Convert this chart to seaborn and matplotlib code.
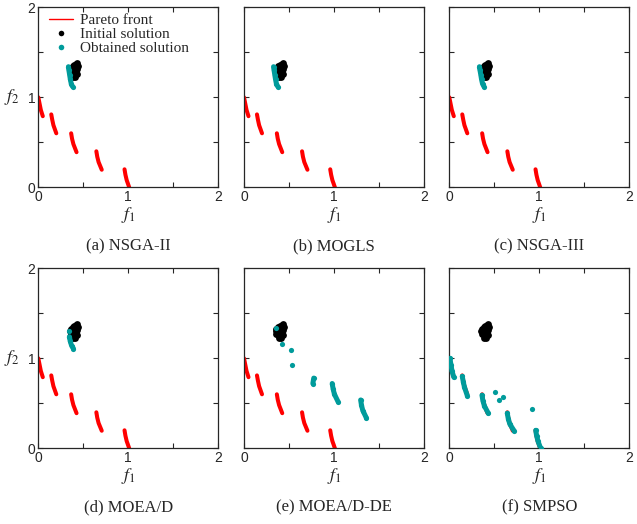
import pandas as pd
import seaborn as sns
import matplotlib.pyplot as plt
from matplotlib.lines import Line2D

sns.set_style("ticks")
plt.rcParams['font.family'] = ['Liberation Sans', 'DejaVu Sans']
plt.rcParams['mathtext.fontset'] = 'stix'

RED = '#ff0000'
TEAL = '#009b9b'
SERIF = ['Liberation Serif', 'DejaVu Serif']

# Pareto front, five disconnected pieces
pf_seg = [1, 1, 1, 1, 2, 2, 2, 2, 3, 3, 3, 3, 4, 4, 4, 4, 5, 5, 5, 5]
pf_f1 = [0.000, 0.012, 0.028, 0.050, 0.144, 0.155, 0.168, 0.200,
         0.365, 0.375, 0.390, 0.425, 0.645, 0.655, 0.670, 0.705,
         0.958, 0.968, 0.982, 1.010]
pf_f2 = [1.000, 0.940, 0.860, 0.790, 0.810, 0.750, 0.690, 0.600,
         0.600, 0.540, 0.480, 0.390, 0.400, 0.340, 0.280, 0.195,
         0.200, 0.140, 0.080, 0.000]

# initial population (same blob in every panel)
init_f1 = [0.36, 0.38, 0.40, 0.42, 0.435, 0.44, 0.43, 0.41, 0.39, 0.37,
           0.36, 0.38, 0.40, 0.42, 0.43, 0.40, 0.385, 0.35, 0.41]
init_f2 = [1.33, 1.35, 1.36, 1.37, 1.38, 1.35, 1.32, 1.33, 1.31, 1.29,
           1.27, 1.26, 1.28, 1.29, 1.26, 1.24, 1.225, 1.30, 1.23]

# obtained solutions of each algorithm
nsga2_seg = [1, 1, 1, 1, 1, 1]
nsga2_f1 = [0.335, 0.340, 0.348, 0.356, 0.366, 0.380]
nsga2_f2 = [1.340, 1.300, 1.250, 1.200, 1.150, 1.120]

mogls_seg = [1, 1, 1, 1, 1, 1]
mogls_f1 = [0.328, 0.334, 0.342, 0.350, 0.360, 0.375]
mogls_f2 = [1.340, 1.300, 1.250, 1.200, 1.150, 1.120]

nsga3_seg = [1, 1, 1, 1, 1, 1]
nsga3_f1 = [0.335, 0.341, 0.350, 0.358, 0.369, 0.385]
nsga3_f2 = [1.340, 1.300, 1.250, 1.200, 1.150, 1.120]

moead_seg = [1, 2, 2, 2, 2]
moead_f1 = [0.340, 0.345, 0.355, 0.370, 0.390]
moead_f2 = [1.305, 1.240, 1.190, 1.140, 1.108]

moeadde_seg = [1, 2, 3, 4, 5, 5, 6, 6, 6, 6, 7, 7, 7, 7]
moeadde_f1 = [0.352, 0.419, 0.526, 0.533, 0.775, 0.765,
              0.980, 0.990, 1.005, 1.044, 1.296, 1.305, 1.320, 1.360]
moeadde_f2 = [1.333, 1.156, 1.093, 0.930, 0.780, 0.720,
              0.720, 0.660, 0.600, 0.520, 0.537, 0.480, 0.420, 0.337]

smpso_seg = [1, 1, 1, 1, 2, 2, 2, 2, 3, 3, 3, 3, 4, 4, 4, 4, 5, 5, 5, 5,
             6, 7, 8, 9]
smpso_f1 = [0.007, 0.018, 0.030, 0.050, 0.144, 0.155, 0.168, 0.200,
            0.363, 0.373, 0.390, 0.433, 0.644, 0.655, 0.672, 0.719,
            0.960, 0.970, 0.985, 1.015, 0.511, 0.552, 0.600, 0.915]
smpso_f2 = [1.000, 0.930, 0.860, 0.790, 0.800, 0.740, 0.680, 0.585,
            0.590, 0.530, 0.470, 0.390, 0.390, 0.330, 0.270, 0.196,
            0.200, 0.140, 0.080, 0.000, 0.622, 0.541, 0.574, 0.433]

titles = ['(a) NSGA-II', '(b) MOGLS', '(c) NSGA-III',
          '(d) MOEA/D', '(e) MOEA/D-DE', '(f) SMPSO']
obtained = [(nsga2_seg, nsga2_f1, nsga2_f2), (mogls_seg, mogls_f1, mogls_f2),
            (nsga3_seg, nsga3_f1, nsga3_f2), (moead_seg, moead_f1, moead_f2),
            (moeadde_seg, moeadde_f1, moeadde_f2), (smpso_seg, smpso_f1, smpso_f2)]

front = pd.DataFrame({'seg': pf_seg, 'f1': pf_f1, 'f2': pf_f2})
init = pd.DataFrame({'f1': init_f1, 'f2': init_f2})

fig = plt.figure(figsize=(6.37, 5.24), dpi=100)
W, H = 637.0, 524.0
lefts = [38.3, 244.0, 449.3]
tops = [7.3, 268.3]
size = 180.0

for i, title in enumerate(titles):
    r, c = divmod(i, 3)
    ax = fig.add_axes([lefts[c] / W, 1 - (tops[r] + size) / H, size / W, size / H])
    seg, f1, f2 = obtained[i]
    obt = pd.DataFrame({'seg': seg, 'f1': f1, 'f2': f2})

    sns.lineplot(data=front, x='f1', y='f2', units='seg', estimator=None,
                 sort=False, color=RED, lw=2.9, solid_capstyle='round', ax=ax)
    sns.scatterplot(data=init, x='f1', y='f2', color='black', s=24,
                    linewidth=0, zorder=3, ax=ax)
    # strokes of the obtained set above the blob; dots as wide as the stroke
    sns.lineplot(data=obt, x='f1', y='f2', units='seg', estimator=None,
                 sort=False, color=TEAL, lw=3.6, solid_capstyle='round',
                 zorder=4, ax=ax)
    sns.scatterplot(data=obt, x='f1', y='f2', color=TEAL, s=14,
                    linewidth=0, zorder=5, ax=ax)

    ax.set_xlim(0, 2)
    ax.set_ylim(0, 2)
    ax.set_xticks([0, 0.5, 1, 1.5, 2])
    ax.set_yticks([0, 0.5, 1, 1.5, 2])
    ax.set_xticklabels(['0', '', '1', '', '2'])
    if c == 0:
        ax.set_yticklabels(['0', '', '1', '', '2'])
    else:
        ax.set_yticklabels([])
    ax.tick_params(direction='in', top=True, right=True, length=3.5,
                   width=0.8, labelsize=10, pad=2)
    for sp in ax.spines.values():
        sp.set_linewidth(0.9)
    ax.set_xlabel('')
    ax.set_ylabel('')
    ax.text(0.5, -28 / size, '$f_1$', transform=ax.transAxes, ha='center',
            va='center', fontsize=13)
    if c == 0:
        ax.text(-26 / size, 0.5, '$f_2$', transform=ax.transAxes,
                ha='center', va='center', fontsize=13)
    ax.text(0.5, -59 / size, title, transform=ax.transAxes, ha='center',
            va='center', fontsize=12, family=SERIF)

    if i == 0:
        handles = [Line2D([], [], color=RED, lw=1.0),
                   Line2D([], [], color='black', marker='o', ls='',
                          markersize=4, markeredgewidth=0),
                   Line2D([], [], color=TEAL, marker='o', ls='',
                          markersize=4, markeredgewidth=0)]
        ax.legend(handles, ['Pareto front', 'Initial solution', 'Obtained solution'],
                  loc='upper left', bbox_to_anchor=(0.0, 1.025), frameon=False,
                  prop={'family': SERIF, 'size': 11}, handlelength=1.6,
                  handletextpad=0.4, labelspacing=0.02, borderaxespad=0.3)

fig.savefig('out.png', dpi=100)
